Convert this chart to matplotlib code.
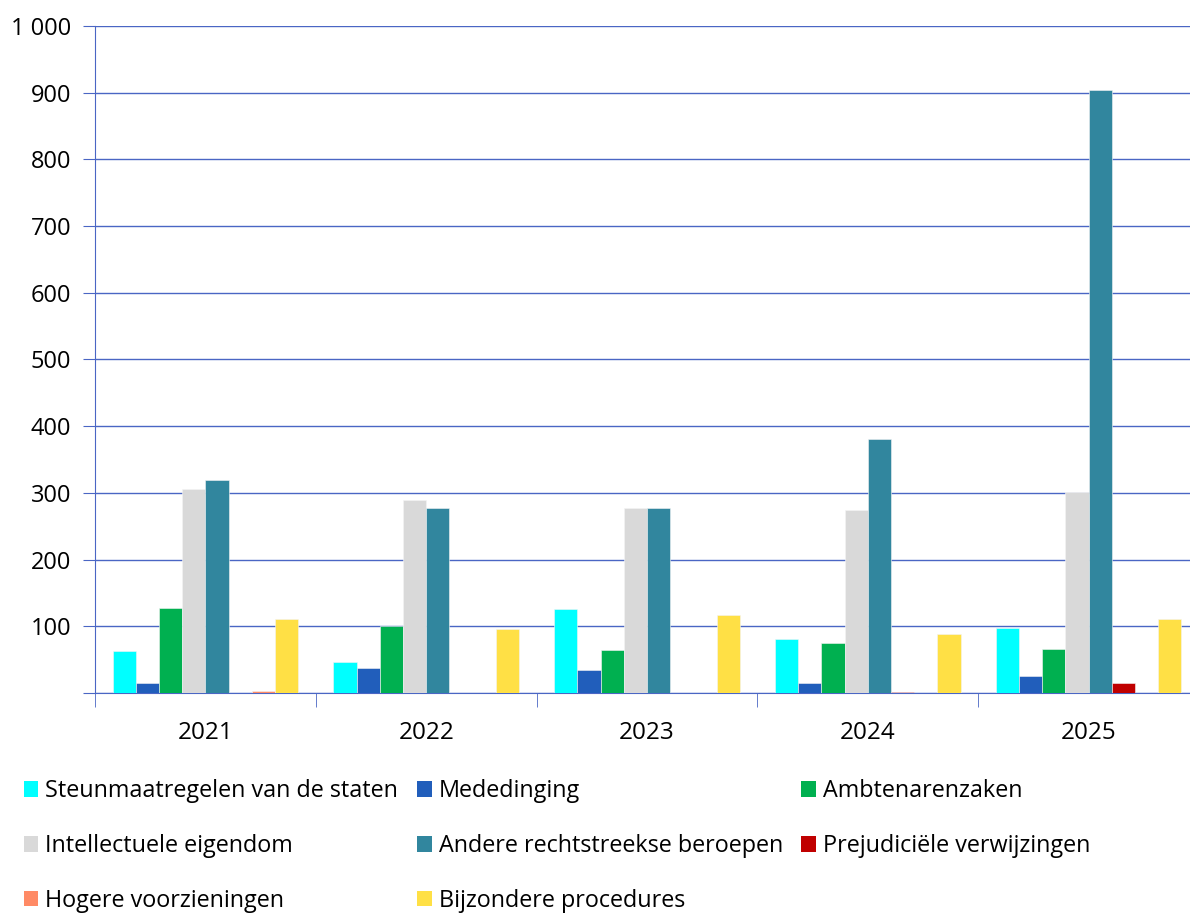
import numpy as np
import matplotlib.pyplot as plt
from matplotlib.patches import Patch
from matplotlib.ticker import FuncFormatter

plt.rcParams['font.family'] = ['Open Sans', 'DejaVu Sans']

years = ['2021', '2022', '2023', '2024', '2025']
series_names = ['Steunmaatregelen van de staten', 'Mededinging', 'Ambtenarenzaken',
                'Intellectuele eigendom', 'Andere rechtstreekse beroepen',
                'Prejudiciële verwijzingen', 'Hogere voorzieningen', 'Bijzondere procedures']
steun = [63, 46, 126, 81, 98]
mededinging = [15, 37, 34, 15, 25]
ambtenaren = [127, 100, 64, 75, 66]
intellectueel = [306, 289, 277, 274, 301]
andere = [319, 277, 277, 381, 904]
prejudicieel = [0, 0, 0, 1, 15]
hogere = [3, 0, 0, 0, 0]
bijzondere = [111, 96, 117, 88, 111]
values = [steun, mededinging, ambtenaren, intellectueel, andere, prejudicieel, hogere, bijzondere]
colors = ['#00FFFF', '#215EBB', '#00B050', '#D9D9D9', '#31869E', '#C00000', '#FF8A65', '#FFE045']

fig = plt.figure(figsize=(11.9, 9.13), dpi=100)
ax = fig.add_axes([95 / 1190, 1 - 693 / 913, (1199 - 95) / 1190, (693 - 26) / 913])

x = np.arange(len(years))
w = 0.105
for i, (vals, c) in enumerate(zip(values, colors)):
    ax.bar(x - 0.42 + w * (i + 0.5), vals, width=w, color=c, edgecolor='#F4F4F4',
           linewidth=0.4, zorder=3)

grid_col = '#4A66C4'
ax.set_xlim(-0.5, 4.5)
ax.set_ylim(0, 1000)
ax.set_yticks(np.arange(0, 1001, 100))
ax.yaxis.set_major_formatter(FuncFormatter(
    lambda v, p: '' if v == 0 else '{:,.0f}'.format(v).replace(',', ' ')))
ax.grid(axis='y', color=grid_col, linewidth=1, zorder=1)
ax.set_xticks(x)
ax.set_xticklabels(years)
ax.set_xticks(np.arange(-0.5, 5, 1), minor=True)
ax.tick_params(axis='x', which='major', length=0, labelsize=17.5, pad=20)
ax.tick_params(axis='x', which='minor', length=10, color=grid_col)
ax.tick_params(axis='y', length=9, color=grid_col, labelsize=17, pad=8)
for side in ['top', 'right']:
    ax.spines[side].set_visible(False)
for side in ['left', 'bottom']:
    ax.spines[side].set_color(grid_col)

# row-major order in the picture, matplotlib fills columns first
order = [0, 3, 6, 1, 4, 7, 2, 5]
handles = [Patch(facecolor=colors[k], edgecolor='none') for k in order]
labels = [series_names[k] for k in order]
fig.legend(handles, labels, ncol=3, loc='upper left', bbox_to_anchor=(0.012, 1 - 770 / 913),
           frameon=False, fontsize=16.8, handlelength=0.63, handleheight=0.63,
           handletextpad=0.3, columnspacing=0.8, labelspacing=1.32, borderaxespad=0)

fig.savefig('out.png', dpi=100)
